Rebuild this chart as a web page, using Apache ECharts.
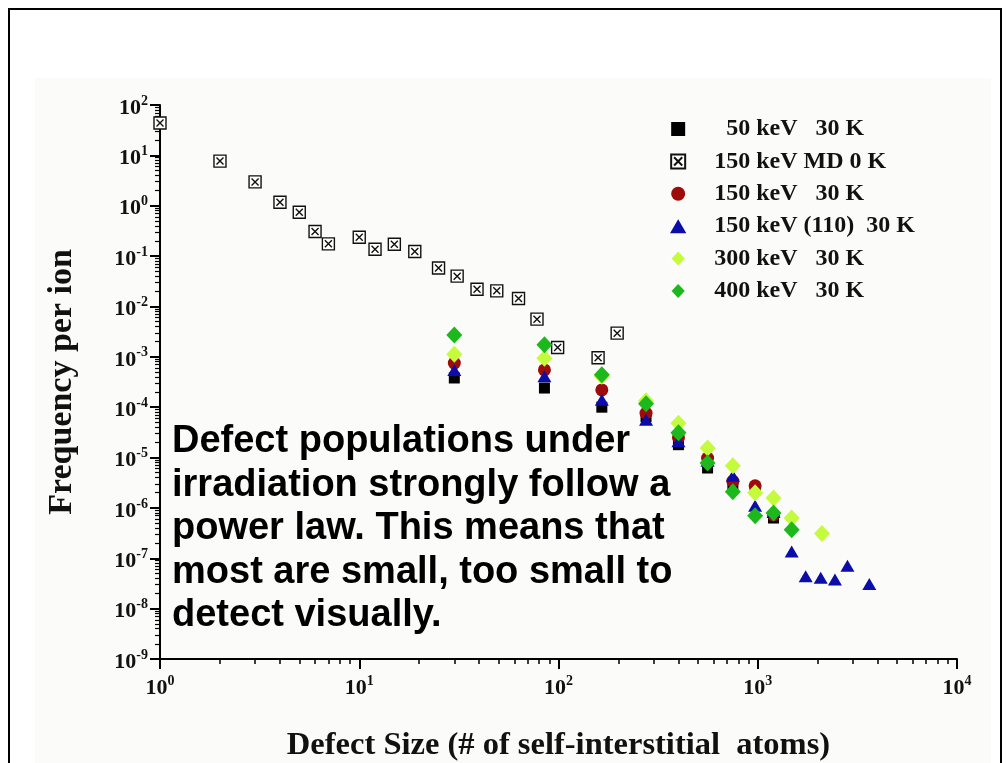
<!DOCTYPE html>
<html>
<head>
<meta charset="utf-8">
<script src="https://cdn.jsdelivr.net/npm/echarts@6/dist/echarts.min.js"></script>
<style>
  html, body { margin: 0; padding: 0; background: #ffffff; }
  #stage { position: relative; width: 1007px; height: 763px; overflow: hidden; }
  #paper { position: absolute; left: 35px; top: 78px; width: 956px; height: 700px; background: #fbfbf9; }
  #chart { position: absolute; left: 0; top: 0; width: 1007px; height: 763px; }
  #frame { position: absolute; left: 8px; top: 8px; width: 990px; height: 800px;
           border: 2px solid #000; border-bottom: none; pointer-events: none; }
</style>
</head>
<body>
<div id="stage">
  <div id="paper"></div>
  <div id="chart"></div>
  <div id="frame"></div>
</div>
<script>
// Cluster size distributions: frequency per ion vs. defect size
const mdSize = [1, 2, 3, 4, 5, 6, 7, 10, 12, 15, 19, 25, 31, 39, 49, 63, 78, 99, 158, 197];
const mdFreq = [44, 7.7, 2.97, 1.17, 0.74, 0.307, 0.175, 0.237, 0.137, 0.172, 0.123, 0.058,
                0.040, 0.022, 0.0204, 0.0144, 0.0056, 0.00153, 0.00096, 0.00295];

const kev50Size = [30, 85, 165, 275, 400, 560, 750, 970, 1200];
const kev50Freq = [3.8e-4, 2.4e-4, 1.0e-4, 6.5e-5, 1.8e-5, 6.2e-6, 2.9e-6, 2.3e-6, 6.3e-7];

const kev150Size = [30, 85, 165, 275, 400, 560, 750, 970, 1200];
const kev150Freq = [7.5e-4, 5.5e-4, 2.2e-4, 7.6e-5, 2.5e-5, 9.8e-6, 3.4e-6, 2.75e-6, 7.3e-7];

const kev150_110Size = [30, 85, 165, 275, 400, 560, 750, 970, 1200, 1480, 1740, 2070, 2440, 2820, 3630];
const kev150_110Freq = [5.5e-4, 4.1e-4, 1.4e-4, 5.6e-5, 2.1e-5, 8.6e-6, 4.35e-6, 1.1e-6, 8.3e-7,
                        1.37e-7, 4.4e-8, 4.1e-8, 3.8e-8, 7.1e-8, 3.1e-8];

const kev300Size = [30, 85, 165, 275, 400, 560, 750, 970, 1200, 1480, 2100];
const kev300Freq = [1.13e-3, 9.4e-4, 4.1e-4, 1.34e-4, 4.8e-5, 1.54e-5, 6.9e-6, 2.0e-6, 1.57e-6, 6.3e-7, 3.1e-7];

const kev400Size = [30, 85, 165, 275, 400, 560, 750, 970, 1200, 1480];
const kev400Freq = [2.7e-3, 1.73e-3, 4.4e-4, 1.17e-4, 3.1e-5, 7.8e-6, 2.1e-6, 7.0e-7, 7.9e-7, 3.7e-7];

const seriesNames = [
  '\u00a0\u00a050 keV\u00a0\u00a0\u00a030 K',
  '150 keV MD 0 K',
  '150 keV\u00a0\u00a0\u00a030 K',
  '150 keV (110)\u00a0\u00a030 K',
  '300 keV\u00a0\u00a0\u00a030 K',
  '400 keV\u00a0\u00a0\u00a030 K'
];

const annotation = 'Defect populations under\nirradiation strongly follow a\npower law. This means that\nmost are small, too small to\ndetect visually.';

const serif = '"Liberation Serif", "Times New Roman", serif';
const sans = '"Liberation Sans", Arial, sans-serif';

function pairs(xs, ys) { return xs.map((x, i) => [x, ys[i]]); }

// "10" with the exponent raised as a superscript
function powerLabel(v) {
  const e = Math.round(Math.log10(v));
  return '{b|10}{s|' + e + '}';
}
const powerRich = {
  b: { fontFamily: serif, fontWeight: 'bold', fontSize: 22, color: '#111', lineHeight: 28 },
  s: { fontFamily: serif, fontWeight: 'bold', fontSize: 14, color: '#111', lineHeight: 14, verticalAlign: 'top' }
};

// Marker outlines as paths so the legend keeps their proportions
const squareMark = 'path://M0,0H10V10H0Z';
const crossedSquare = 'path://M0,0H12V12H0Z M2.5,2.5L9.5,9.5 M9.5,2.5L2.5,9.5';
const triangleMark = 'path://M7,0L14,12H0Z';
const diamondMark = 'path://M8,0L16,8.5L8,17L0,8.5Z';

const chart = echarts.init(document.getElementById('chart'), null, { renderer: 'canvas' });

chart.setOption({
  backgroundColor: 'transparent',
  animation: false,
  grid: { left: 160, right: 50, top: 105, bottom: 104, containLabel: false, outerBoundsMode: 'none' },
  legend: {
    orient: 'vertical',
    left: 665,
    top: 112,
    itemWidth: 62,
    itemHeight: 14,
    itemGap: 8.4,
    selectedMode: false,
    symbolKeepAspect: true,
    data: seriesNames,
    textStyle: { fontFamily: serif, fontWeight: 'bold', fontSize: 24, lineHeight: 24, color: '#111' }
  },
  xAxis: {
    type: 'log',
    logBase: 10,
    min: 1,
    max: 10000,
    interval: 1,
    name: 'Defect Size (# of self-interstitial\u00a0\u00a0atoms)',
    nameLocation: 'middle',
    nameGap: 70,
    nameTextStyle: { fontFamily: serif, fontWeight: 'bold', fontSize: 32.5, color: '#111' },
    axisLine: { lineStyle: { color: '#000', width: 2 } },
    axisTick: { length: 10, lineStyle: { color: '#000', width: 2 } },
    minorTick: { show: true, splitNumber: 9, length: 5, lineStyle: { color: '#000', width: 1.5 } },
    splitLine: { show: false },
    axisLabel: { margin: 15, formatter: powerLabel, rich: powerRich }
  },
  yAxis: {
    type: 'log',
    logBase: 10,
    min: 1e-9,
    max: 100,
    interval: 1,
    name: 'Frequency per ion',
    nameLocation: 'middle',
    nameGap: 81,
    nameTextStyle: { fontFamily: serif, fontWeight: 'bold', fontSize: 34, color: '#111' },
    axisLine: { lineStyle: { color: '#000', width: 2 } },
    axisTick: { length: 10, lineStyle: { color: '#000', width: 2 } },
    minorTick: { show: true, splitNumber: 9, length: 5, lineStyle: { color: '#000', width: 1.2 } },
    splitLine: { show: false },
    axisLabel: { margin: 12, padding: [6, 0, 0, 0], formatter: powerLabel, rich: powerRich }
  },
  graphic: [{
    type: 'text',
    left: 172,
    top: 420,
    z: 100,
    style: {
      text: annotation,
      fontFamily: sans,
      fontWeight: 'bold',
      fontSize: 38,
      lineHeight: 43.5,
      fill: '#000'
    }
  }],
  series: [
    {
      name: seriesNames[0], type: 'scatter', symbol: squareMark, symbolSize: 11, symbolKeepAspect: true,
      itemStyle: { color: '#000', opacity: 1 },
      data: pairs(kev50Size, kev50Freq)
    },
    {
      name: seriesNames[1], type: 'scatter', symbol: crossedSquare, symbolSize: 12, symbolKeepAspect: true,
      itemStyle: { color: '#fff', borderColor: '#111', borderWidth: 1.4, opacity: 1 },
      data: pairs(mdSize, mdFreq)
    },
    {
      name: seriesNames[2], type: 'scatter', symbol: 'circle', symbolSize: 13, symbolKeepAspect: true,
      itemStyle: { color: '#9e0b0b', opacity: 1 },
      data: pairs(kev150Size, kev150Freq)
    },
    {
      name: seriesNames[3], type: 'scatter', symbol: triangleMark, symbolSize: 14, symbolKeepAspect: true,
      itemStyle: { color: '#0c0ca8', opacity: 1 },
      data: pairs(kev150_110Size, kev150_110Freq)
    },
    {
      name: seriesNames[4], type: 'scatter', symbol: diamondMark, symbolSize: 17, symbolKeepAspect: true,
      itemStyle: { color: '#c4fb3c', opacity: 1 },
      data: pairs(kev300Size, kev300Freq)
    },
    {
      name: seriesNames[5], type: 'scatter', symbol: diamondMark, symbolSize: 17, symbolKeepAspect: true,
      itemStyle: { color: '#1cb81c', opacity: 1 },
      data: pairs(kev400Size, kev400Freq)
    }
  ]
});
</script>
</body>
</html>
